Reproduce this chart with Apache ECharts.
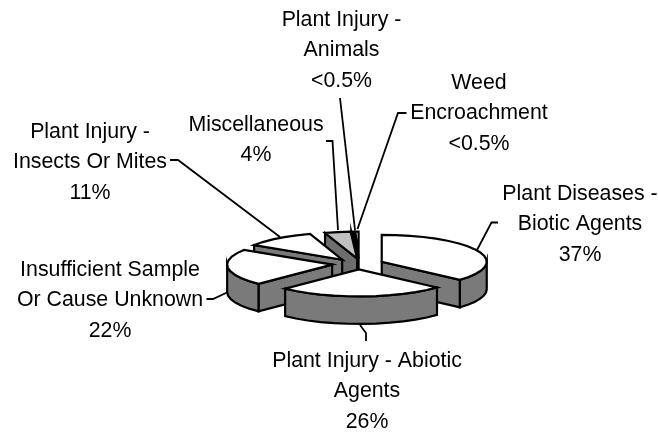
<!DOCTYPE html>
<html><head><meta charset="utf-8">
<style>html,body{margin:0;padding:0;background:#fff}#c{width:658px;height:432px}</style>
<script src="https://cdn.jsdelivr.net/npm/echarts@6/dist/echarts.min.js"></script>
</head><body><div id="c"></div>
<script>
const categories = ['Plant Diseases - Biotic Agents','Plant Injury - Abiotic Agents','Insufficient Sample Or Cause Unknown','Plant Injury - Insects Or Mites','Miscellaneous','Plant Injury - Animals','Weed Encroachment'];
const values = [37,26,22,11,4,0.5,0.5];
const topColors = ['#ffffff','#ffffff','#ffffff','#ffffff','#c0c0c0','#000000','#ffffff'];
const sideColors = ['#7a7a7a','#7a7a7a','#7a7a7a','#7a7a7a','#6e6e6e','#000000','#000000'];
const drawOrder = [6,5,4,3,0,2,1];
const labelLines = [['Plant Diseases -','Biotic Agents','37%'],['Plant Injury - Abiotic','Agents','26%'],['Insufficient Sample','Or Cause Unknown','22%'],['Plant Injury -','Insects Or Mites','11%'],['Miscellaneous','4%'],['Plant Injury -','Animals','<0.5%'],['Weed','Encroachment','<0.5%']];

const pie = {cx:358, cy:264, rx:105, ry:27, depth:27.5, ex:26, ey:5.4, step:8};
const sliceNudgeX = [0,0,0,0,4,1,1];
const labelAnchors = [[580,194],[367,361],[110,270],[90,132],[256,125],[341.5,20],[479,83]];
const lineGap = 30.6;
const leaders = [
 [[498,222.5],[491.5,222.5],[477,250]],
 [[366,341],[366,333],[360,325]],
 [[206.5,299],[213,299],[227,292.5]],
 [[170,160],[178,160],[280,237]],
 [[326,141],[332.5,141],[338,230]],
 [[340,98],[355,230]],
 [[406.5,113],[398,113],[357.5,229]]
];

const total = values.reduce((a,b)=>a+b,0);
const rad = d => d*Math.PI/180;
let acc = 0;
const spans = values.map(v=>{const s=[acc*360/total,(acc+v)*360/total];acc+=v;return s;});

function arc(c,a0,a1,dy){
  const n=Math.max(1,Math.ceil((a1-a0)/pie.step)),p=[];
  for(let i=0;i<=n;i++){const a=rad(a0+(a1-a0)*i/n);p.push([c[0]+pie.rx*Math.sin(a),c[1]-pie.ry*Math.cos(a)+dy]);}
  return p;
}
const stroke = {stroke:'#000',lineWidth:2.2,lineJoin:'miter'};
function poly(points,fill){return {type:'polygon',shape:{points},style:Object.assign({fill},stroke)};}

function renderSlice(params,api){
  const i=api.value(0), v=api.value(1);
  const a0=spans[i][0], a1=a0+v*360/total, mid=rad((a0+a1)/2);
  const c=[pie.cx+pie.ex*Math.sin(mid)+sliceNudgeX[i],pie.cy-pie.ey*Math.cos(mid)];
  const kids=[], top=arc(c,a0,a1,0), d=pie.depth;
  const corner=a=>[c[0]+pie.rx*Math.sin(rad(a)),c[1]-pie.ry*Math.cos(rad(a))];
  const face=a=>{const q=corner(a);return poly([c,q,[q[0],q[1]+d],[c[0],c[1]+d]],sideColors[i]);};
  if(Math.sin(rad(a0))<-1e-6) kids.push(face(a0));
  if(Math.sin(rad(a1))>1e-6) kids.push(face(a1));
  const r0=Math.max(a0,90), r1=Math.min(a1,270);
  if(r1>r0){
    const t=arc(c,r0,r1,0), b=arc(c,r0,r1,d).reverse();
    kids.push(poly(t.concat(b),sideColors[i]));
  }
  kids.push(poly([c].concat(top),topColors[i]));
  return {type:'group',children:kids};
}

const graphics=[];
labelLines.forEach((lines,i)=>{
  lines.forEach((t,j)=>graphics.push({type:'text',x:labelAnchors[i][0],y:labelAnchors[i][1]+j*lineGap,silent:true,
    style:{text:t,fill:'#000',font:'21.33px "Liberation Sans", Arial, sans-serif',textAlign:'center',textVerticalAlign:'middle'}}));
  if(leaders[i].length) graphics.push({type:'polyline',silent:true,shape:{points:leaders[i]},style:{stroke:'#000',lineWidth:1.8,fill:null}});
});

const chart=echarts.init(document.getElementById('c'),null,{renderer:'canvas'});
chart.setOption({
  animation:false,
  backgroundColor:'#fff',
  graphic:graphics,
  series:[{type:'custom',coordinateSystem:'none',clip:false,silent:true,
    encode:{},renderItem:renderSlice,
    data:drawOrder.map(i=>({name:categories[i],value:[i,values[i]]}))}]
});
</script></body></html>
